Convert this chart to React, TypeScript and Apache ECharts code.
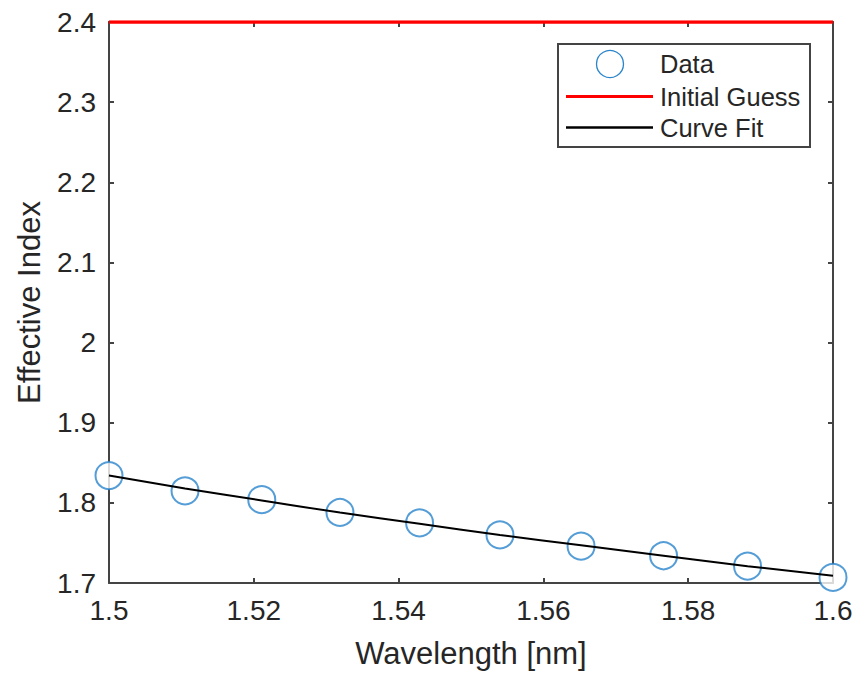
import React, { useEffect, useRef } from "react";
import * as echarts from "echarts";

const wavelengths = [1.5, 1.5105, 1.5211, 1.5319, 1.5429, 1.554, 1.5652, 1.5766, 1.5882, 1.6];
const dataIndex = [1.834, 1.815, 1.804, 1.788, 1.775, 1.76, 1.746, 1.734, 1.721, 1.707];
const fitIndex = [1.834, 1.818, 1.803, 1.788, 1.774, 1.76, 1.747, 1.734, 1.721, 1.709];
const guessIndex = [2.4, 2.4];
const guessX = [1.5, 1.6];
const legendNames = ["Data", "Initial Guess", "Curve Fit"];

const FONT = "'Liberation Sans', Arial, Helvetica, sans-serif";
const AX = "#262626";
const FRAME = "#444444";
const BLUE = "#2a85cc";
const RED = "#FF0000";
const BLACK = "#000000";

export default function App() {
  const ref = useRef<HTMLDivElement>(null);
  useEffect(() => {
    if (!ref.current) return;
    const chart = echarts.init(ref.current, undefined, { renderer: "svg" });
    const axisCommon = {
      type: "value" as const,
      axisLine: { show: true, lineStyle: { color: FRAME, width: 2 } },
      axisTick: { show: true, inside: true, length: 5, lineStyle: { color: FRAME, width: 2 } },
      splitLine: { show: false },
    };
    const lx = 558, ly = 44, lw = 252, lh = 103;
    const rowY = [64, 96.5, 127.5];
    chart.setOption({
      animation: false,
      textStyle: { fontFamily: FONT },
      grid: { left: 109, right: 27, top: 22, bottom: 96, containLabel: false },
      xAxis: [
        {
          ...axisCommon,
          min: 1.5,
          max: 1.6,
          interval: 0.02,
          position: "bottom",
          name: "Wavelength [nm]",
          nameLocation: "middle",
          nameGap: 55,
          nameTextStyle: { fontSize: 31, color: AX, fontFamily: FONT },
          axisLabel: { fontSize: 28, color: AX, margin: 13, fontFamily: FONT },
        },
        {
          ...axisCommon,
          min: 1.5,
          max: 1.6,
          interval: 0.02,
          position: "top",
          axisLabel: { show: false },
        },
      ],
      yAxis: [
        {
          ...axisCommon,
          min: 1.7,
          max: 2.4,
          interval: 0.1,
          position: "left",
          name: "Effective Index",
          nameLocation: "middle",
          nameGap: 64,
          nameTextStyle: { fontSize: 31, color: AX, fontFamily: FONT },
          axisLabel: { fontSize: 28, color: AX, margin: 13, fontFamily: FONT },
        },
        {
          ...axisCommon,
          min: 1.7,
          max: 2.4,
          interval: 0.1,
          position: "right",
          axisLabel: { show: false },
        },
      ],
      graphic: [
        {
          type: "group",
          z: 100,
          children: [
            {
              type: "rect",
              shape: { x: lx, y: ly, width: lw, height: lh },
              style: { fill: "#ffffff", stroke: FRAME, lineWidth: 2 },
            },
            {
              type: "circle",
              shape: { cx: 610, cy: rowY[0], r: 13.5 },
              style: { fill: "none", stroke: BLUE, lineWidth: 1.3 },
            },
            {
              type: "line",
              shape: { x1: 566, y1: rowY[1], x2: 653, y2: rowY[1] },
              style: { stroke: RED, lineWidth: 3 },
            },
            {
              type: "line",
              shape: { x1: 566, y1: rowY[2], x2: 653, y2: rowY[2] },
              style: { stroke: BLACK, lineWidth: 2.5 },
            },
            ...legendNames.map((n, i) => ({
              type: "text",
              x: 660,
              y: rowY[i],
              style: {
                text: n,
                fontSize: 25.5,
                fontFamily: FONT,
                fill: AX,
                verticalAlign: "middle",
                align: "left",
              },
            })),
          ],
        },
      ],
      series: [
        {
          name: "Data",
          type: "scatter",
          symbol: "emptyCircle",
          symbolSize: 27,
          itemStyle: { color: BLUE, borderColor: BLUE, borderWidth: 1.3 },
          data: wavelengths.map((x, i) => [x, dataIndex[i]]),
          z: 3,
        },
        {
          name: "Initial Guess",
          type: "line",
          symbol: "none",
          lineStyle: { color: RED, width: 3.5 },
          data: guessX.map((x, i) => [x, guessIndex[i]]),
          z: 4,
        },
        {
          name: "Curve Fit",
          type: "line",
          symbol: "none",
          smooth: true,
          lineStyle: { color: BLACK, width: 2 },
          data: wavelengths.map((x, i) => [x, fitIndex[i]]),
          z: 4,
        },
      ],
    });
    return () => chart.dispose();
  }, []);
  return (
    <div
      ref={ref}
      style={{ position: "absolute", left: 0, top: 0, width: 860, height: 679 }}
    />
  );
}
